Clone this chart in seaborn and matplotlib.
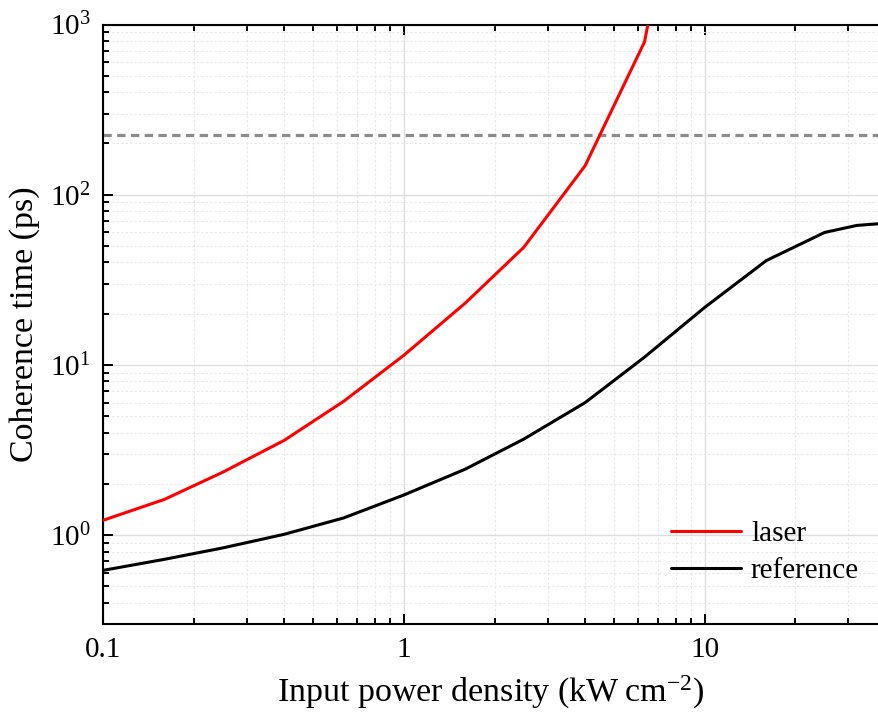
import matplotlib
matplotlib.use("Agg")
import matplotlib.pyplot as plt
import numpy as np
import pandas as pd
import seaborn as sns
from matplotlib.ticker import LogLocator, NullFormatter, FixedLocator

# ---- data ----
laser_power = [0.1, 0.16, 0.25, 0.4, 0.63, 1.0, 1.6, 2.5, 4.0, 6.3, 10.0]
laser_time = [1.22, 1.62, 2.34, 3.6, 6.1, 11.4, 23.1, 49.0, 148.0, 790.0, 50000.0]
reference_power = [0.1, 0.16, 0.25, 0.4, 0.63, 1.0, 1.6, 2.5, 4.0, 6.3, 10.0, 16.0, 25.0, 32.0, 40.0]
reference_time = [0.62, 0.72, 0.84, 1.01, 1.26, 1.72, 2.44, 3.66, 6.0, 11.1, 21.8, 41.0, 60.0, 66.0, 68.0]
threshold_time = 225.0
series_labels = ["laser", "reference"]
series_colors = ["#ff0000", "#000000"]
x_tick_values = [0.1, 1, 10]
x_tick_labels = ["0.1", "1", "10"]

sns.set_style("ticks")
plt.rcParams["font.family"] = ["Liberation Serif", "DejaVu Serif"]
plt.rcParams["mathtext.fontset"] = "custom"
plt.rcParams["mathtext.rm"] = "Liberation Serif"
plt.rcParams["mathtext.default"] = "regular"
plt.rcParams["text.color"] = "black"
plt.rcParams["axes.labelcolor"] = "black"
plt.rcParams["xtick.color"] = "black"
plt.rcParams["ytick.color"] = "black"

fig = plt.figure(figsize=(8.79, 7.13), dpi=100)
ax = fig.add_axes([0.1172, 0.1248, 0.8828, 0.8408])

df_laser = pd.DataFrame({"power": laser_power, "time": laser_time})
df_ref = pd.DataFrame({"power": reference_power, "time": reference_time})

ax.set_xscale("log")
ax.set_yscale("log")

# grid
ax.grid(True, which="major", color="#dedede", lw=1.0, ls="-", zorder=0)
ax.grid(True, which="minor", color="#e8e8e8", lw=0.8, ls=(0, (2, 2)), zorder=0)

ax.axhline(threshold_time, color="#8c8c8c", lw=2.3, ls=(0, (2.6, 1.7)), zorder=1)

sns.lineplot(data=df_laser, x="power", y="time", color=series_colors[0], lw=2.2,
             label=series_labels[0], ax=ax, zorder=3)
sns.lineplot(data=df_ref, x="power", y="time", color=series_colors[1], lw=2.2,
             label=series_labels[1], ax=ax, zorder=3)

ax.set_xlim(0.1, 37.9)
ax.set_ylim(0.3, 1000)

ax.xaxis.set_major_locator(FixedLocator(x_tick_values))
ax.set_xticklabels(x_tick_labels)
ax.xaxis.set_minor_locator(LogLocator(base=10, subs=np.arange(2, 10), numticks=20))
ax.xaxis.set_minor_formatter(NullFormatter())
ax.yaxis.set_major_locator(LogLocator(base=10, numticks=10))
ax.yaxis.set_minor_locator(LogLocator(base=10, subs=np.arange(2, 10), numticks=20))
ax.yaxis.set_minor_formatter(NullFormatter())

ax.tick_params(which="both", direction="in", top=True, right=False, width=1.4,
               color="black", labelcolor="black")
ax.tick_params(which="major", length=7, labelsize=21, pad=9)
ax.tick_params(which="minor", length=4)

for s in ["left", "top", "bottom"]:
    ax.spines[s].set_linewidth(1.5)
    ax.spines[s].set_color("black")
ax.spines["right"].set_visible(False)

ax.set_xlabel("Input power density (kW\u2009cm$^{-2}$)", fontsize=24.5, labelpad=8, color="black")
ax.set_ylabel("Coherence time (ps)", fontsize=24.5, labelpad=7, color="black")

leg = ax.legend(loc="upper left", bbox_to_anchor=(0.7316, 0.172), frameon=False,
                fontsize=21, handlelength=2.4, handletextpad=0.35, labelspacing=0.35,
                borderpad=0, borderaxespad=0)
for line in leg.get_lines():
    line.set_linewidth(2.2)
for t in leg.get_texts():
    t.set_color("black")

fig.savefig("out.png", dpi=100)
